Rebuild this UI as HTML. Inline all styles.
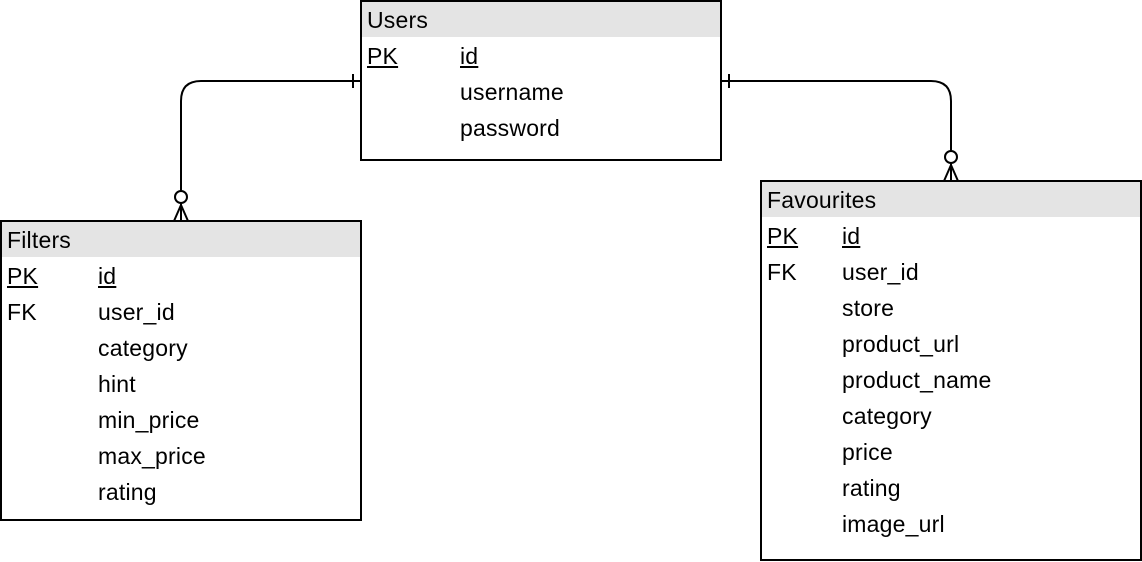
<!DOCTYPE html>
<html><head><style>
html,body{margin:0;padding:0;background:#fff;}
body{width:1142px;height:562px;position:relative;overflow:hidden;font-family:"Liberation Sans",Arial,sans-serif;font-size:23px;letter-spacing:0.2px;color:#000;}
.box{position:absolute;border:2px solid #000;box-sizing:border-box;background:#fff;}
.hd{background:#e4e4e4;height:35px;line-height:36px;padding-left:5px;}
.t{position:absolute;line-height:20px;}
.u{text-decoration:underline;}
</style></head><body>
<svg width="1142" height="562" style="position:absolute;left:0;top:0" fill="none" stroke="#000" stroke-width="2">
<path d="M361 81 H201 Q181 81 181 101 V221"/>
<path d="M353 74 V88"/>
<circle cx="181" cy="197" r="6" fill="#fff"/>
<path d="M174 221 L181 205 L188 221 M181 205 V221"/>
<path d="M721 81 H931 Q951 81 951 101 V181"/>
<path d="M729 74 V88"/>
<circle cx="951" cy="157" r="6" fill="#fff"/>
<path d="M944 181 L951 165 L958 181 M951 165 V181"/>
</svg>
<div class="box" style="left:360px;top:0;width:362px;height:161px"><div class="hd">Users</div></div>
<div class="t u" style="left:367px;top:46px">PK</div><div class="t u" style="left:460px;top:46px">id</div>
<div class="t" style="left:460px;top:82px">username</div>
<div class="t" style="left:460px;top:118px">password</div>

<div class="box" style="left:0;top:220px;width:362px;height:301px"><div class="hd">Filters</div></div>
<div class="t u" style="left:7px;top:266px">PK</div><div class="t u" style="left:98px;top:266px">id</div>
<div class="t" style="left:7px;top:302px">FK</div><div class="t" style="left:98px;top:302px">user_id</div>
<div class="t" style="left:98px;top:338px">category</div>
<div class="t" style="left:98px;top:374px">hint</div>
<div class="t" style="left:98px;top:410px">min_price</div>
<div class="t" style="left:98px;top:446px">max_price</div>
<div class="t" style="left:98px;top:482px">rating</div>

<div class="box" style="left:760px;top:180px;width:382px;height:381px"><div class="hd">Favourites</div></div>
<div class="t u" style="left:767px;top:226px">PK</div><div class="t u" style="left:842px;top:226px">id</div>
<div class="t" style="left:767px;top:262px">FK</div><div class="t" style="left:842px;top:262px">user_id</div>
<div class="t" style="left:842px;top:298px">store</div>
<div class="t" style="left:842px;top:334px">product_url</div>
<div class="t" style="left:842px;top:370px">product_name</div>
<div class="t" style="left:842px;top:406px">category</div>
<div class="t" style="left:842px;top:442px">price</div>
<div class="t" style="left:842px;top:478px">rating</div>
<div class="t" style="left:842px;top:514px">image_url</div>
</body></html>
